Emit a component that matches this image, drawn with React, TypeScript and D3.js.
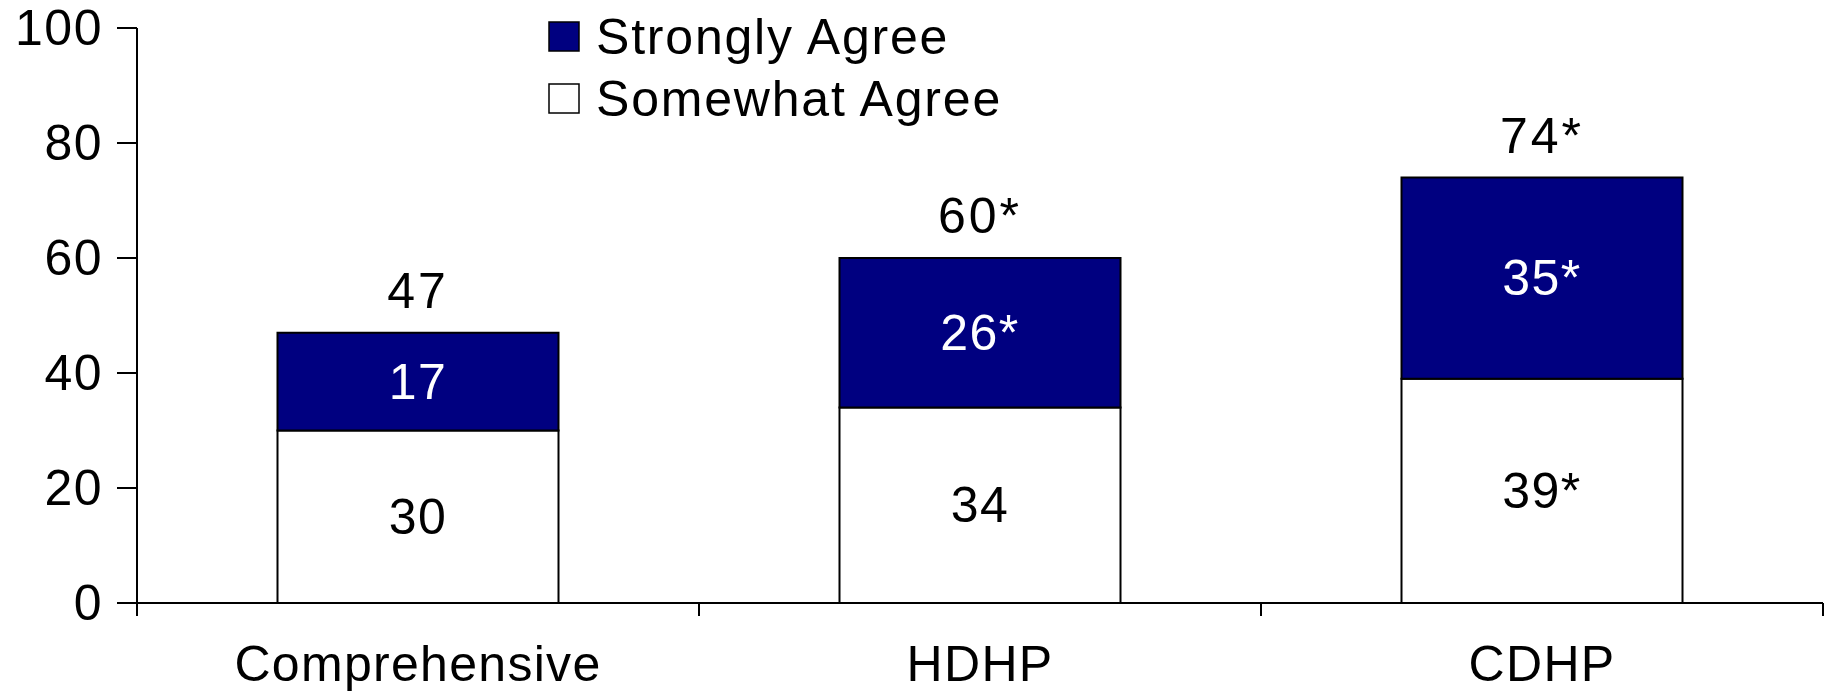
import React from "react";
import * as d3 from "d3";

const categories = ["Comprehensive", "HDHP", "CDHP"];
const somewhatAgree = [30, 34, 39];
const stronglyAgree = [17, 26, 35];
const somewhatLabels = ["30", "34", "39*"];
const stronglyLabels = ["17", "26*", "35*"];
const totalLabels = ["47", "60*", "74*"];
const yTicks = [0, 20, 40, 60, 80, 100];
const seriesNames = ["Strongly Agree", "Somewhat Agree"];
const seriesColors = ["#000080", "#ffffff"];

const W = 1835;
const H = 693;
const margin = { left: 137, right: 12, top: 28, bottom: 90 };
const FONT = "'Liberation Sans', Arial, Helvetica, sans-serif";
const FS = 50;

export default function App() {
  const x = d3
    .scaleBand<string>()
    .domain(categories)
    .range([margin.left, W - margin.right])
    .paddingInner(0.5)
    .paddingOuter(0.25);
  const band = d3.scaleBand<string>().domain(categories).range([margin.left, W - margin.right]);
  const y = d3.scaleLinear().domain([0, 100]).range([H - margin.bottom, margin.top]);
  const y0 = y(0);

  return (
    <svg
      width={W}
      height={H}
      style={{ position: "absolute", left: 0, top: 0, background: "#fff" }}
      fontFamily={FONT}
    >
      {/* bars */}
      {categories.map((c, i) => {
        const bx = x(c)!;
        const bw = x.bandwidth();
        const s = somewhatAgree[i];
        const t = stronglyAgree[i];
        return (
          <g key={c}>
            <rect x={bx} y={y(s)} width={bw} height={y0 - y(s)} fill={seriesColors[1]} stroke="#000" strokeWidth={2} />
            <rect x={bx} y={y(s + t)} width={bw} height={y(s) - y(s + t)} fill={seriesColors[0]} stroke="#000" strokeWidth={2} />
            <text x={bx + bw / 2} y={(y(s) + y0) / 2} textAnchor="middle" dominantBaseline="central" fontSize={FS} fill="#000" letterSpacing={1.5}>
              {somewhatLabels[i]}
            </text>
            <text x={bx + bw / 2} y={(y(s) + y(s + t)) / 2} textAnchor="middle" dominantBaseline="central" fontSize={FS} fill="#fff" letterSpacing={1.5}>
              {stronglyLabels[i]}
            </text>
            <text x={bx + bw / 2} y={y(s + t) - 42} textAnchor="middle" dominantBaseline="central" fontSize={FS} fill="#000" letterSpacing={3}>
              {totalLabels[i]}
            </text>
            <text x={bx + bw / 2} y={681} textAnchor="middle" fontSize={FS} fill="#000" letterSpacing={1.3}>
              {c}
            </text>
          </g>
        );
      })}

      {/* y axis */}
      <line x1={margin.left} x2={margin.left} y1={y(100)} y2={y0} stroke="#000" strokeWidth={2} />
      {yTicks.map((v) => (
        <g key={v}>
          <line x1={margin.left - 20} x2={margin.left} y1={y(v)} y2={y(v)} stroke="#000" strokeWidth={2} />
          <text x={103} y={y(v)} textAnchor="end" dominantBaseline="central" fontSize={FS} fill="#000" letterSpacing={1.5}>
            {v}
          </text>
        </g>
      ))}

      {/* x axis */}
      <line x1={margin.left} x2={W - margin.right} y1={y0} y2={y0} stroke="#000" strokeWidth={2} />
      {[...categories.map((c) => band(c)!), W - margin.right].map((px, i) => (
        <line key={i} x1={px} x2={px} y1={y0} y2={y0 + 13} stroke="#000" strokeWidth={2} />
      ))}

      {/* legend */}
      {seriesNames.map((n, i) => (
        <g key={n} transform={`translate(549, ${22 + i * 62})`}>
          <rect x={0} y={0} width={30} height={29} fill={seriesColors[i]} stroke="#000" strokeWidth={1.5} />
          <text x={47} y={15} dominantBaseline="central" fontSize={FS} fill="#000" letterSpacing={1.8}>
            {n}
          </text>
        </g>
      ))}
    </svg>
  );
}
